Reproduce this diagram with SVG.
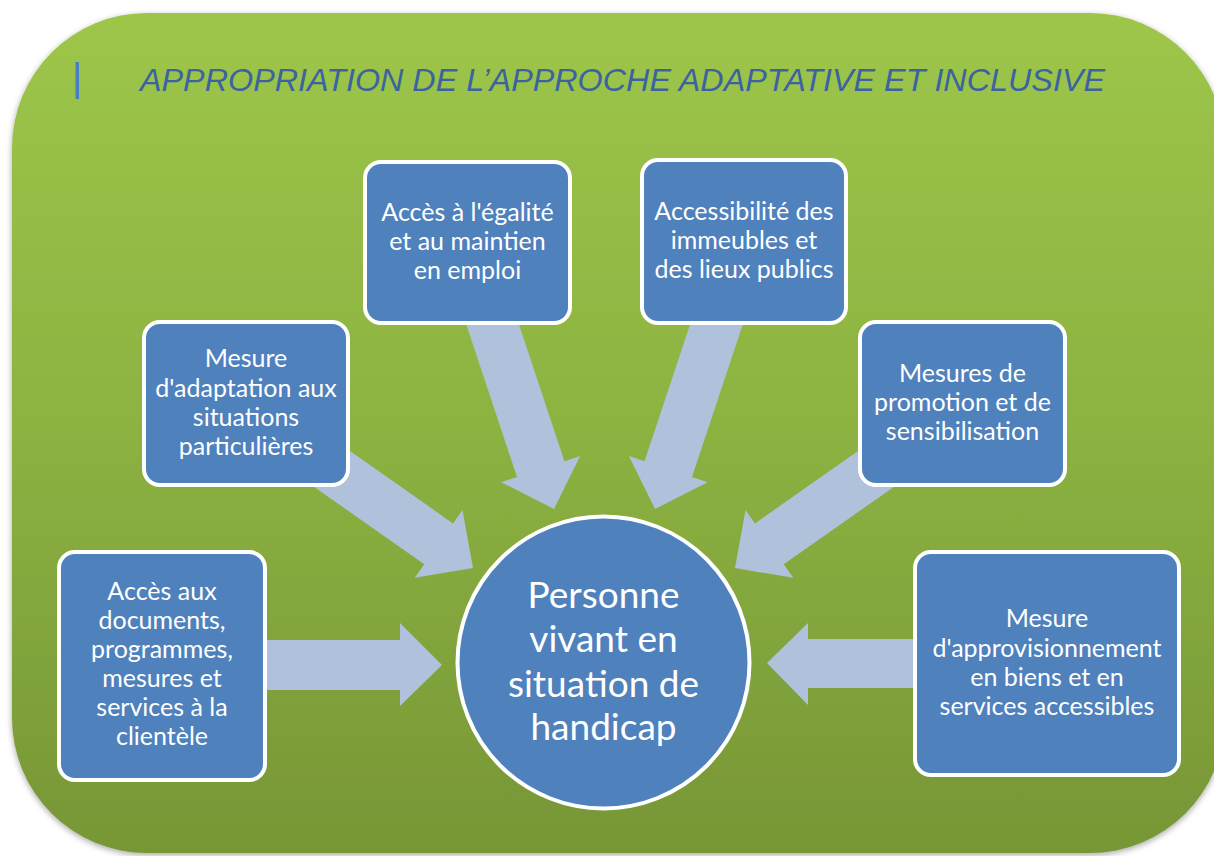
<svg xmlns="http://www.w3.org/2000/svg" width="1214" height="856" viewBox="0 0 1214 856">
  <defs>
    <linearGradient id="bg" x1="0" y1="0" x2="0" y2="1">
      <stop offset="0" stop-color="#9DC64A"/>
      <stop offset="0.5" stop-color="#8CB241"/>
      <stop offset="1" stop-color="#779636"/>
    </linearGradient>
    <filter id="shadow" x="-5%" y="-5%" width="110%" height="110%">
      <feGaussianBlur in="SourceAlpha" stdDeviation="3"/>
      <feOffset dx="0" dy="2" result="b"/>
      <feComponentTransfer><feFuncA type="linear" slope="0.35"/></feComponentTransfer>
      <feMerge><feMergeNode/><feMergeNode in="SourceGraphic"/></feMerge>
    </filter>
    <polygon id="arr" points="-220,-25 -42,-25 -42,-41.5 0,0 -42,41.5 -42,25 -220,25"/>
  </defs>
  <style>
    .box { fill: #4F81BD; stroke: #FFFFFF; stroke-width: 4; }
    .arrow { fill: #B0C1DC; }
    .t { font-family: Lato, "Open Sans", sans-serif; font-size: 25px; fill: #FFFFFF; text-anchor: middle; }
    .tc { font-family: Lato, "Open Sans", sans-serif; font-size: 37px; fill: #FFFFFF; text-anchor: middle; }
    .title { font-family: "Liberation Sans", Arial, sans-serif; font-size: 32px; font-style: italic; fill: #3C63A0; }
  </style>

  <rect x="12" y="13" width="1213" height="840" rx="135" ry="135" fill="url(#bg)" filter="url(#shadow)"/>

  <g id="title">
    <rect x="75.5" y="62" width="3.5" height="37" fill="#4A7EC4"/>
    <text class="title" x="140" y="91" textLength="965" lengthAdjust="spacingAndGlyphs">APPROPRIATION DE L’APPROCHE ADAPTATIVE ET INCLUSIVE</text>
  </g>

  <g id="connectors">
    <polygon class="arrow" points="240,640 400,640 400,623 442,665 400,706 400,690 240,690"/>
    <polygon class="arrow" points="940,639 808,639 808,623 767,663 808,705 808,688 940,688"/>
    <use href="#arr" class="arrow" transform="translate(473,568) rotate(35.1)"/>
    <use href="#arr" class="arrow" transform="translate(554,509) rotate(71.6)"/>
    <use href="#arr" class="arrow" transform="translate(655,509) rotate(108.4)"/>
    <use href="#arr" class="arrow" transform="translate(735,568) rotate(144.9)"/>
  </g>

  <g id="node-documents">
    <rect class="box" x="59" y="552" width="206" height="228" rx="16"/>
    <text class="t" x="162" y="600">Accès aux</text>
    <text class="t" x="162" y="629">documents,</text>
    <text class="t" x="162" y="658">programmes,</text>
    <text class="t" x="162" y="687">mesures et</text>
    <text class="t" x="162" y="716">services à la</text>
    <text class="t" x="162" y="745">clientèle</text>
  </g>

  <g id="node-adaptation">
    <rect class="box" x="144" y="322" width="204" height="163" rx="16"/>
    <text class="t" x="246" y="367">Mesure</text>
    <text class="t" x="246" y="397">d'adaptation aux</text>
    <text class="t" x="246" y="426">situations</text>
    <text class="t" x="246" y="455">particulières</text>
  </g>

  <g id="node-emploi">
    <rect class="box" x="365" y="162" width="205" height="161" rx="16"/>
    <text class="t" x="467.5" y="221">Accès à l'égalité</text>
    <text class="t" x="467.5" y="250">et au maintien</text>
    <text class="t" x="467.5" y="279">en emploi</text>
  </g>

  <g id="node-immeubles">
    <rect class="box" x="642" y="160" width="204" height="163" rx="16"/>
    <text class="t" x="744" y="220">Accessibilité des</text>
    <text class="t" x="744" y="249">immeubles et</text>
    <text class="t" x="744" y="278">des lieux publics</text>
  </g>

  <g id="node-promotion">
    <rect class="box" x="860" y="322" width="205" height="163" rx="16"/>
    <text class="t" x="962.5" y="382">Mesures de</text>
    <text class="t" x="962.5" y="411">promotion et de</text>
    <text class="t" x="962.5" y="440">sensibilisation</text>
  </g>

  <g id="node-approvisionnement">
    <rect class="box" x="915" y="552" width="264" height="223" rx="16"/>
    <text class="t" x="1047" y="627">Mesure</text>
    <text class="t" x="1047" y="657">d'approvisionnement</text>
    <text class="t" x="1047" y="686">en biens et en</text>
    <text class="t" x="1047" y="715">services accessibles</text>
  </g>

  <g id="node-personne">
    <circle class="box" cx="603.5" cy="662.5" r="146"/>
    <text class="tc" x="603.5" y="608">Personne</text>
    <text class="tc" x="603.5" y="652">vivant en</text>
    <text class="tc" x="603.5" y="697">situation de</text>
    <text class="tc" x="603.5" y="740">handicap</text>
  </g>
</svg>
